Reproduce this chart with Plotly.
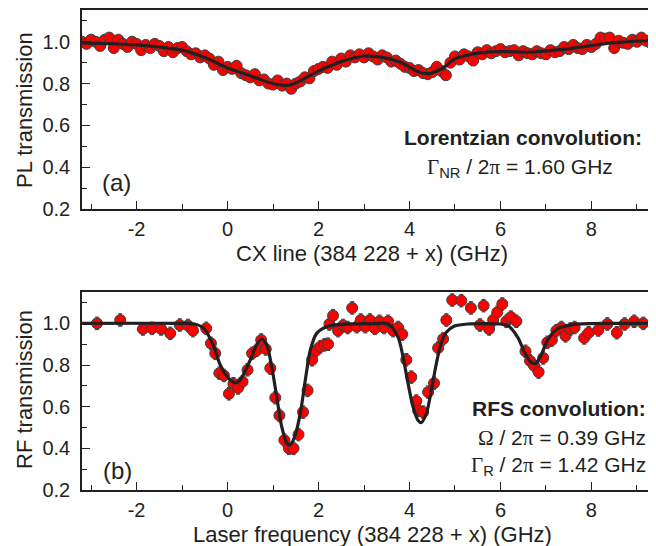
import plotly.graph_objects as go
from plotly.subplots import make_subplots

# ---------------- data: panel (a) PL transmission ----------------
pl_x = [-3.2, -3.1, -3.0, -2.9, -2.8, -2.7, -2.6, -2.5, -2.4, -2.3, -2.2, -2.1, -2.0,
        -1.9, -1.8, -1.7, -1.6, -1.5, -1.4, -1.3, -1.2, -1.1, -1.0, -0.9, -0.8, -0.7,
        -0.6, -0.5, -0.4, -0.3, -0.2, -0.1, 0.0, 0.1, 0.2, 0.3, 0.4, 0.5, 0.6, 0.7,
        0.8, 0.9, 1.0, 1.1, 1.2, 1.3, 1.4, 1.5, 1.6, 1.7, 1.8, 1.9, 2.0, 2.1, 2.2,
        2.3, 2.4, 2.5, 2.6, 2.7, 2.8, 2.9, 3.0, 3.1, 3.2, 3.3, 3.4, 3.5, 3.6, 3.7,
        3.8, 3.9, 4.0, 4.1, 4.2, 4.3, 4.4, 4.5, 4.6, 4.7, 4.8, 4.9, 5.0, 5.1, 5.2,
        5.3, 5.4, 5.5, 5.6, 5.7, 5.8, 5.9, 6.0, 6.1, 6.2, 6.3, 6.4, 6.5, 6.6, 6.7,
        6.8, 6.9, 7.0, 7.1, 7.2, 7.3, 7.4, 7.5, 7.6, 7.7, 7.8, 7.9, 8.0, 8.1, 8.2,
        8.3, 8.4, 8.5, 8.6, 8.7, 8.8, 8.9, 9.0, 9.1, 9.2, 9.3, 9.4]
pl_y = [1.00, 0.99, 1.01, 1.00, 0.98, 1.01, 1.02, 0.97, 1.01, 0.99, 0.975, 1.00, 0.99,
        0.96, 0.985, 0.97, 0.99, 0.98, 0.955, 0.975, 0.95, 0.97, 0.975, 0.955, 0.94, 0.945,
        0.925, 0.935, 0.92, 0.89, 0.905, 0.865, 0.88, 0.87, 0.885, 0.85, 0.84, 0.83, 0.845, 0.815,
        0.82, 0.80, 0.795, 0.815, 0.79, 0.80, 0.775, 0.80, 0.81, 0.83, 0.825, 0.86, 0.87, 0.88, 0.875,
        0.905, 0.89, 0.92, 0.905, 0.935, 0.925, 0.94, 0.925, 0.945, 0.93, 0.915, 0.935, 0.925, 0.905, 0.91,
        0.895, 0.88, 0.875, 0.86, 0.865, 0.85, 0.845, 0.855, 0.88, 0.86, 0.84, 0.90, 0.93, 0.915, 0.94,
        0.93, 0.91, 0.95, 0.94, 0.96, 0.945, 0.955, 0.965, 0.95, 0.955, 0.96, 0.935, 0.955, 0.945, 0.94,
        0.955, 0.945, 0.94, 0.96, 0.95, 0.955, 0.975, 0.965, 0.985, 0.97, 0.965, 0.985, 0.975, 0.99, 1.02,
        1.015, 1.02, 0.97, 1.005, 0.995, 0.99, 1.01, 1.00, 1.02, 1.005, 0.995, 1.015]

# Lorentzian-convolution fit curve
pl_fit_x = [-3.2, -2.5, -2.0, -1.5, -1.0, -0.5, 0.0, 0.5, 1.0, 1.35, 1.7, 2.0, 2.5, 3.0,
            3.4, 3.8, 4.2, 4.45, 4.7, 5.0, 5.4, 5.8, 6.3, 6.7, 7.2, 7.6, 8.0, 8.4, 8.8, 9.42]
pl_fit_y = [0.995, 0.99, 0.985, 0.975, 0.96, 0.925, 0.875, 0.838, 0.80, 0.792, 0.825, 0.86, 0.905, 0.932,
            0.925, 0.902, 0.855, 0.848, 0.87, 0.918, 0.942, 0.952, 0.952, 0.95, 0.96, 0.97, 0.982, 0.993, 1.0, 1.01]

# ---------------- data: panel (b) RF transmission ----------------
rf_x = [-2.87, -2.36, -1.86, -1.66, -1.46, -1.26, -1.05, -0.87, -0.76, -0.47, -0.365, -0.27,
        -0.18, -0.08, 0.03, 0.13, 0.23, 0.33, 0.44, 0.54, 0.64, 0.74, 0.84, 0.94, 1.05, 1.14,
        1.25, 1.35, 1.45, 1.56, 1.66, 1.76, 1.86, 1.95, 2.04, 2.13, 2.21, 2.24, 2.32, 2.43,
        2.54, 2.64, 2.74, 2.84, 2.93, 3.03, 3.13, 3.24, 3.34, 3.44, 3.53, 3.64, 3.75, 3.84,
        3.93, 4.04, 4.15, 4.19, 4.30, 4.41, 4.54, 4.63, 4.74, 4.81, 4.94, 5.14, 5.35, 5.55,
        5.63, 5.75, 5.84, 5.93, 6.04, 6.13, 6.23, 6.35, 6.55, 6.65, 6.74, 6.84, 6.94, 7.03,
        7.13, 7.23, 7.34, 7.43, 7.54, 7.63, 7.84, 7.94, 8.15, 8.35, 8.56, 8.73, 8.94, 9.14]
rf_y = [1.0, 1.016, 0.973, 0.976, 0.973, 0.952, 0.992, 0.99, 0.965, 0.976, 0.904, 0.856,
        0.761, 0.75, 0.662, 0.71, 0.69, 0.72, 0.777, 0.856, 0.87, 0.92, 0.877, 0.785, 0.643, 0.558,
        0.439, 0.40, 0.40, 0.466, 0.574, 0.678, 0.825, 0.87, 0.888, 0.897, 0.90, 0.997, 1.037, 0.965,
        0.99, 0.98, 1.074, 0.984, 1.016, 0.984, 1.016, 0.976, 1.01, 0.98, 1.01, 0.965, 0.98, 0.948,
        0.825, 0.742, 0.627, 0.582, 0.574, 0.67, 0.713, 0.882, 0.925, 1.016, 1.112, 1.109, 1.074, 0.992,
        1.085, 0.973, 1.016, 1.053, 1.093, 1.01, 1.03, 1.01, 0.866, 0.82, 0.797, 0.766, 0.834, 0.909,
        0.92, 0.965, 0.98, 0.94, 0.973, 0.98, 0.93, 0.955, 0.968, 0.997, 0.955, 0.997, 1.01, 1.0]
rf_err = [0.03] * len(rf_x)

# RFS-convolution fit curve
rf_fit_x = [-3.2, -1.0, -0.75, -0.52, -0.30, -0.16, 0.06, 0.17, 0.28, 0.50, 0.64, 0.75, 0.86,
            0.97, 1.08, 1.19, 1.30, 1.37, 1.48, 1.60, 1.71, 1.82, 1.96, 2.22, 2.6, 3.2, 3.53,
            3.75, 3.86, 3.97, 4.08, 4.19, 4.26, 4.37, 4.48, 4.59, 4.70, 4.81, 4.99, 5.28, 6.0,
            6.16, 6.38, 6.53, 6.67, 6.75, 6.78, 6.89, 7.03, 7.25, 7.62, 8.5, 9.42]
rf_fit_y = [1.0, 1.0, 0.998, 0.976, 0.888, 0.80, 0.728, 0.715, 0.728, 0.825, 0.897, 0.925, 0.897,
            0.793, 0.649, 0.505, 0.426, 0.415, 0.458, 0.569, 0.728, 0.872, 0.952, 0.987, 0.996, 0.999, 0.997,
            0.933, 0.837, 0.71, 0.598, 0.534, 0.524, 0.566, 0.678, 0.806, 0.909, 0.957, 0.987, 0.997, 0.997,
            0.99, 0.933, 0.861, 0.813, 0.806, 0.809, 0.845, 0.917, 0.973, 0.995, 1.0, 1.0]

x_ticks = [-2, 0, 2, 4, 6, 8]
x_tick_text = ["-2", "0", "2", "4", "6", "8"]
y_ticks = [0.2, 0.4, 0.6, 0.8, 1.0]
y_tick_text = ["0.2", "0.4", "0.6", "0.8", "1.0"]

# ---------------- style ----------------
INK = "#231f20"
RED = "#ff0000"
FONT = "Liberation Sans, Arial, sans-serif"
SERIF = "Liberation Serif, Times New Roman, serif"

fig = make_subplots(rows=2, cols=1, vertical_spacing=0.0)

marker = dict(color=RED, size=11, line=dict(color="#3c3c3c", width=1))

fig.add_trace(go.Scatter(x=pl_x, y=pl_y, mode="markers", marker=marker,
                         showlegend=False), row=1, col=1)
fig.add_trace(go.Scatter(x=pl_fit_x, y=pl_fit_y, mode="lines",
                         line=dict(color=INK, width=3.2, shape="spline", smoothing=1.0),
                         showlegend=False), row=1, col=1)

fig.add_trace(go.Scatter(x=rf_x, y=rf_y, mode="markers", marker=marker,
                         error_y=dict(type="data", array=rf_err, color="#3c3c3c",
                                      thickness=1, width=2),
                         showlegend=False), row=2, col=1)
fig.add_trace(go.Scatter(x=rf_fit_x, y=rf_fit_y, mode="lines",
                         line=dict(color=INK, width=3.2, shape="spline", smoothing=0.8),
                         showlegend=False), row=2, col=1)

# The page body adds an 8px offset; the figure is sized so the plot fills the window.
OFF = 8
W, H = 656 - OFF, 546 - OFF
L = 82 - OFF          # plot area left edge at x=82 in the window
T = 10 - OFF          # top panel top edge at y=10 in the window
B = 546 - 490         # bottom panel bottom edge at y=490 in the window
PW, PH = W - L, H - T - B


def xpaper(px):
    return (px - OFF - L) / PW


def ypaper(py):
    return (H - B - (py - OFF)) / PH


fig.update_layout(
    yaxis=dict(domain=[ypaper(209), 1.0]),
    yaxis2=dict(domain=[0.0, ypaper(291.7)]),
)

xcommon = dict(range=[-3.2, 9.42], tickvals=x_ticks, ticktext=x_tick_text, ticks="inside",
               ticklen=8, tickwidth=1.3, tickcolor=INK, showline=True, linecolor=INK,
               linewidth=1.5, mirror=True, showgrid=False, zeroline=False,
               minor=dict(dtick=1, tick0=0, ticks="inside", ticklen=5, tickwidth=1.3,
                          tickcolor=INK, showgrid=False),
               tickfont=dict(family=FONT, size=20, color=INK), ticklabelstandoff=1)
ycommon = dict(range=[0.2, 1.152], tickvals=y_ticks, ticktext=y_tick_text,
               ticks="inside", ticklen=8, tickwidth=1.3, tickcolor=INK, showline=True,
               linecolor=INK, linewidth=1.5, mirror=False, showgrid=False, zeroline=False,
               minor=dict(dtick=0.1, tick0=0.2, ticks="inside", ticklen=5, tickwidth=1.3,
                          tickcolor=INK, showgrid=False),
               tickfont=dict(family=FONT, size=20, color=INK), ticklabelstandoff=6)

fig.update_xaxes(**xcommon)
fig.update_yaxes(**ycommon)

ann = []


def txt(text, x, y, size=21, xref="x", yref="y", xanchor="center", yanchor="middle", angle=0):
    ann.append(dict(text=text, x=x, y=y, xref=xref, yref=yref, xanchor=xanchor,
                    yanchor=yanchor, showarrow=False, textangle=angle,
                    font=dict(family=FONT, size=size, color=INK)))


G = "<span style='font-family:%s'>&#915;</span>" % SERIF
OM = "<span style='font-family:%s'>&#937;</span>" % SERIF
PI = "<span style='font-family:%s'>&#960;</span>" % SERIF

# panel (a)
txt("<b>Lorentzian convolution:</b>", 6.50, 0.542)
txt(G + "<sub>NR</sub> / 2" + PI + " = 1.60 GHz", 6.43, 0.398)
txt("(a)", -2.45, 0.325, size=24)
# panel (b)
txt("<b>RFS convolution:</b>", 9.25, 0.592, xref="x2", yref="y2", xanchor="right")
txt(OM + " / 2" + PI + " = 0.39 GHz", 9.25, 0.448, xref="x2", yref="y2", xanchor="right")
txt(G + "<sub>R</sub> / 2" + PI + " = 1.42 GHz", 9.25, 0.315, xref="x2", yref="y2", xanchor="right")
txt("(b)", -2.43, 0.295, size=24, xref="x2", yref="y2")

# axis titles
txt("PL transmission", xpaper(24), ypaper(110), size=22, xref="paper", yref="paper", angle=-90)
txt("RF transmission", xpaper(24), ypaper(390), size=22, xref="paper", yref="paper", angle=-90)
txt("CX line (384 228 + x) (GHz)", xpaper(372), ypaper(253), size=22, xref="paper", yref="paper")
txt("Laser frequency (384 228 + x) (GHz)", xpaper(372), ypaper(534), size=22, xref="paper", yref="paper")

fig.update_layout(
    width=W, height=H,
    margin=dict(l=L, r=0, t=T, b=B, pad=0),
    paper_bgcolor="white", plot_bgcolor="white",
    annotations=ann,
    font=dict(family=FONT, color=INK),
)

fig.write_html("out.html")
